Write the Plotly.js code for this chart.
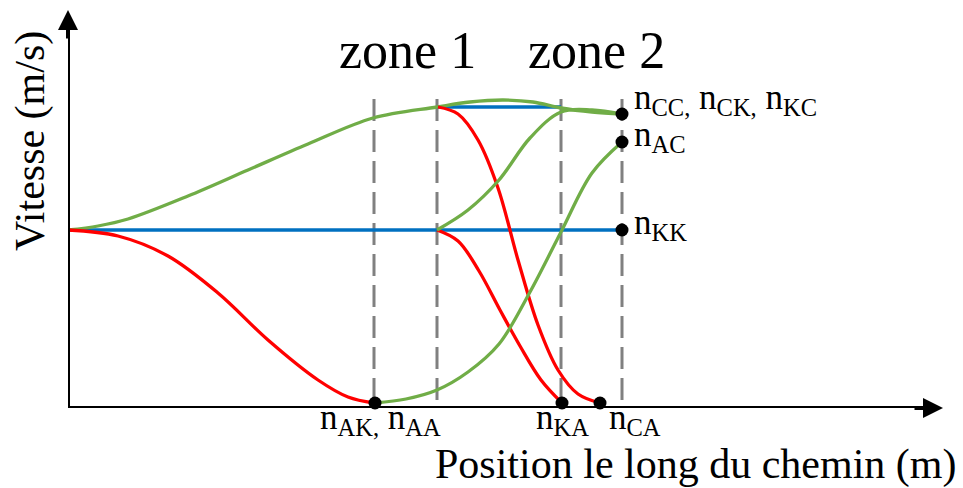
<!DOCTYPE html>
<html>
<head>
<meta charset="utf-8">
<script src="https://cdn.plot.ly/plotly-3.0.1.min.js"></script>
<style>
  html, body { margin: 0; padding: 0; background: #fff; }
  #graph { width: 963px; height: 488px; }
</style>
</head>
<body>
<div id="graph"></div>
<script>
// positions along the path (arbitrary units), speeds (arbitrary units)
const xMax = 875;
const yMax = 398;
const zoneX = [306, 369, 493, 554];
const zoneLow = 8;
const zoneHigh = 311;

// n_CC path through the top
const topX = [0, 30, 60, 120, 180, 240, 305, 369, 402, 435, 465, 493, 524, 554];
const topY = [178, 182, 189, 212, 238, 264, 290, 301, 306, 308, 306, 300, 296, 294];

// braking towards n_AK / n_AA
const brakeX = [0, 50, 100, 150, 200, 250, 280, 306];
const brakeY = [178, 172, 152, 115, 68, 28, 11, 5];

// constant speed n_KK
const kkX = [0, 554];
const kkY = [178, 178];

// constant speed in zone 1 top
const ccX = [369, 493];
const ccY = [301, 301];

// braking from the top to n_CA
const caX = [370, 390, 410, 430, 450, 470, 490, 510, 532];
const caY = [301, 294, 268, 220, 148, 83, 38, 14, 5];

// braking from n_KK to n_KA
const kaX = [369, 390, 411, 432, 452, 473, 494];
const kaY = [178, 167, 137, 98, 62, 28, 5];

// accelerating from n_KK to n_CK / n_KC
const kcX = [369, 400, 431, 462, 493, 524, 554];
const kcY = [178, 198, 228, 270, 296, 298, 294];

// accelerating from n_AA to n_AC
const acX = [307, 338, 369, 400, 431, 462, 493, 524, 554];
const acY = [5, 9, 18, 36, 64, 116, 176, 235, 266];

// end points
const dotX = [307, 494, 532, 554, 554, 554];
const dotY = [5, 5, 5, 294, 266, 178];

const green = '#70ad47';
const red = '#ff0000';
const blue = '#0070c0';
const serif = 'Liberation Serif, Times New Roman, serif';

const curve = (x, y, color) => ({
  x: x, y: y, type: 'scatter', mode: 'lines',
  line: { color: color, width: 3.3, shape: 'spline', smoothing: 1 },
  hoverinfo: 'skip', cliponaxis: false
});

const data = [];
zoneX.forEach(v => {
  data.push({
    x: [v, v], y: [zoneLow, zoneHigh], type: 'scatter', mode: 'lines',
    line: { color: '#808080', width: 3, dash: '22px,9px' }, hoverinfo: 'skip'
  });
});
data.push(curve(kkX, kkY, blue));
data.push(curve(ccX, ccY, blue));
data.push(curve(topX, topY, green));
data.push(curve(brakeX, brakeY, red));
data.push(curve(caX, caY, red));
data.push(curve(kaX, kaY, red));
data.push(curve(kcX, kcY, green));
data.push(curve(acX, acY, green));
data.push({
  x: dotX, y: dotY, type: 'scatter', mode: 'markers',
  marker: { color: '#000', size: 13 }, hoverinfo: 'skip', cliponaxis: false
});

// labels placed in paper units so that they can sit outside the axes
const label = (text, x, y, xanchor, size) => ({
  text: text, x: x / xMax, y: y / yMax, xref: 'paper', yref: 'paper',
  xanchor: xanchor, yanchor: 'middle', showarrow: false, borderpad: 0,
  font: { family: serif, size: size || 35, color: '#000' }
});

const annotations = [
  label('zone 1', 339, 358, 'center', 52),
  label('zone 2', 528, 358, 'center', 52),
  label('n<sub>CC,</sub> n<sub>CK,</sub> n<sub>KC</sub>', 565, 309, 'left'),
  label('n<sub>AC</sub>', 565, 272, 'left'),
  label('n<sub>KK</sub>', 565, 183, 'left'),
  label('n<sub>AK,</sub> n<sub>AA</sub>', 312, -12, 'center'),
  label('n<sub>KA</sub>', 494, -12, 'center'),
  label('n<sub>CA</sub>', 567, -12, 'center'),
  label('Position le long du chemin (m)', 889, -56, 'right', 42),
  Object.assign(label('Vitesse (m/s)', -38, 267, 'center', 42), { textangle: -90 }),
  // arrow heads of the axes
  { x: xMax, y: 0, ax: xMax - 30, ay: 0, xref: 'x', yref: 'y', axref: 'x', ayref: 'y',
    text: '', showarrow: true, arrowhead: 2, arrowwidth: 4, arrowsize: 1, arrowcolor: '#000' },
  { x: 0, y: yMax, ax: 0, ay: yMax - 30, xref: 'x', yref: 'y', axref: 'x', ayref: 'y',
    text: '', showarrow: true, arrowhead: 2, arrowwidth: 4, arrowsize: 1, arrowcolor: '#000' }
];

const layout = {
  width: 963, height: 488,
  margin: { l: 68, r: 20, t: 10, b: 80 },
  paper_bgcolor: '#fff', plot_bgcolor: '#fff',
  showlegend: false,
  xaxis: { range: [0, xMax], showgrid: false, zeroline: false, showticklabels: false, ticks: '', fixedrange: true },
  yaxis: { range: [0, yMax], showgrid: false, zeroline: false, showticklabels: false, ticks: '', fixedrange: true },
  shapes: [
    { type: 'line', xref: 'x', yref: 'y', x0: -1, y0: 0, x1: xMax - 15, y1: 0, line: { color: '#000', width: 4 } },
    { type: 'line', xref: 'x', yref: 'y', x0: 0, y0: 0, x1: 0, y1: yMax - 13, line: { color: '#000', width: 4 } }
  ],
  annotations: annotations
};

Plotly.newPlot('graph', data, layout, { displayModeBar: false, staticPlot: true });
</script>
</body>
</html>
